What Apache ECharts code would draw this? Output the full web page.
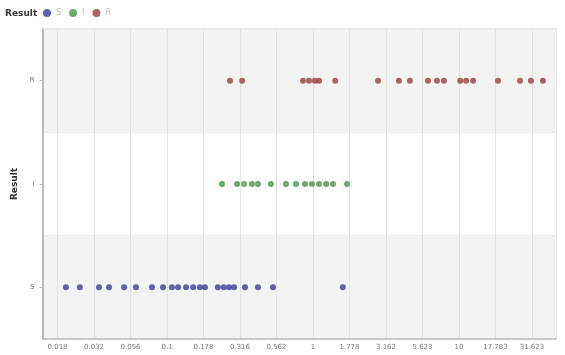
<!DOCTYPE html>
<html>
<head>
<meta charset="utf-8">
<script src="https://cdn.jsdelivr.net/npm/echarts@6/dist/echarts.min.js"></script>
<style>
  html, body { margin: 0; padding: 0; background: #fff; }
  #chart { width: 565px; height: 355px; }
</style>
</head>
<body>
<div id="chart"></div>
<script>
// Result categories, bottom to top
const categories = ['S', 'I', 'R'];

// Measured values per result group
const valuesS = [0.0203, 0.0253, 0.0342, 0.0401, 0.0508, 0.0613, 0.0789, 0.0939, 0.108, 0.119,
  0.135, 0.151, 0.168, 0.182, 0.223, 0.245, 0.266, 0.288, 0.342, 0.420, 0.532, 1.60];
const valuesI = [0.238, 0.302, 0.337, 0.382, 0.420, 0.515, 0.653, 0.765, 0.881, 0.984,
  1.10, 1.23, 1.37, 1.71];
const valuesR = [0.270, 0.327, 0.854, 0.939, 1.03, 1.10, 1.42, 2.79, 3.88, 4.61,
  6.13, 7.07, 7.89, 10.2, 11.2, 12.5, 18.5, 26.2, 31.1, 37.6];

// Tick labels along the value axis (quarter-decade steps)
const tickLabels = ['0.018', '0.032', '0.056', '0.1', '0.178', '0.316', '0.562',
  '1', '1.778', '3.162', '5.623', '10', '17.783', '31.623'];
const tickLogStart = -1.75;
const tickLogStep = 0.25;

// Visible range of the value axis
const xMin = 0.01403;
const xMax = 46.2;

const colors = ['#3c3c96', '#4c924c', '#984040'];

// The axis works in log10 space; points keep their real value alongside
const lg = v => Math.log10(v);
const tickPositions = tickLabels.map((_, i) => tickLogStart + tickLogStep * i);

function toPoints(vals, cat) {
  return vals.map(v => ({ value: [lg(v), cat], real: v }));
}

const chart = echarts.init(document.getElementById('chart'), null, { renderer: 'canvas' });

chart.setOption({
  animation: false,
  title: {
    text: 'Result',
    left: 5,
    top: 9,
    padding: 0,
    textStyle: { fontSize: 9, fontWeight: 'bold', color: '#333', fontFamily: 'DejaVu Sans' }
  },
  legend: {
    left: 43,
    top: 9,
    padding: 0,
    itemWidth: 8,
    itemHeight: 8,
    itemGap: 8,
    icon: 'circle',
    textStyle: { fontSize: 8, color: '#bbb', fontFamily: 'DejaVu Sans' },
    data: categories
  },
  grid: {
    left: 42.5,
    right: 9,
    top: 29,
    bottom: 16,
    show: true,
    borderColor: '#cfcfcf',
    borderWidth: 1
  },
  xAxis: {
    type: 'value',
    min: lg(xMin),
    max: lg(xMax),
    axisLine: { show: true, onZero: false, lineStyle: { color: '#bbb', width: 1.5 } },
    axisTick: { show: false, customValues: tickPositions },
    axisLabel: {
      customValues: tickPositions,
      fontSize: 7,
      color: '#777',
      margin: 5,
      fontFamily: 'DejaVu Sans',
      formatter: v => tickLabels[Math.round((v - tickLogStart) / tickLogStep)]
    },
    splitLine: { show: true, lineStyle: { color: '#e2e2e2', width: 1 } }
  },
  yAxis: {
    type: 'category',
    data: categories,
    name: 'Result',
    nameLocation: 'middle',
    nameGap: 18,
    nameTextStyle: { fontSize: 9, fontWeight: 'bold', color: '#333', fontFamily: 'DejaVu Sans' },
    axisLine: { show: true, onZero: false, lineStyle: { color: '#aaa', width: 1.5 } },
    axisTick: { show: true, alignWithLabel: true, length: 3, lineStyle: { color: '#bbb' } },
    axisLabel: { fontSize: 7, color: '#777', margin: 8, fontFamily: 'DejaVu Sans' },
    splitLine: { show: true, lineStyle: { color: '#ececec' } },
    splitArea: { show: true, areaStyle: { color: ['#f3f3f3', '#ffffff'] } }
  },
  series: [
    { name: 'S', type: 'scatter', symbolSize: 6, itemStyle: { color: colors[0] }, data: toPoints(valuesS, 'S') },
    { name: 'I', type: 'scatter', symbolSize: 6, itemStyle: { color: colors[1] }, data: toPoints(valuesI, 'I') },
    { name: 'R', type: 'scatter', symbolSize: 6, itemStyle: { color: colors[2] }, data: toPoints(valuesR, 'R') }
  ]
});
</script>
</body>
</html>
